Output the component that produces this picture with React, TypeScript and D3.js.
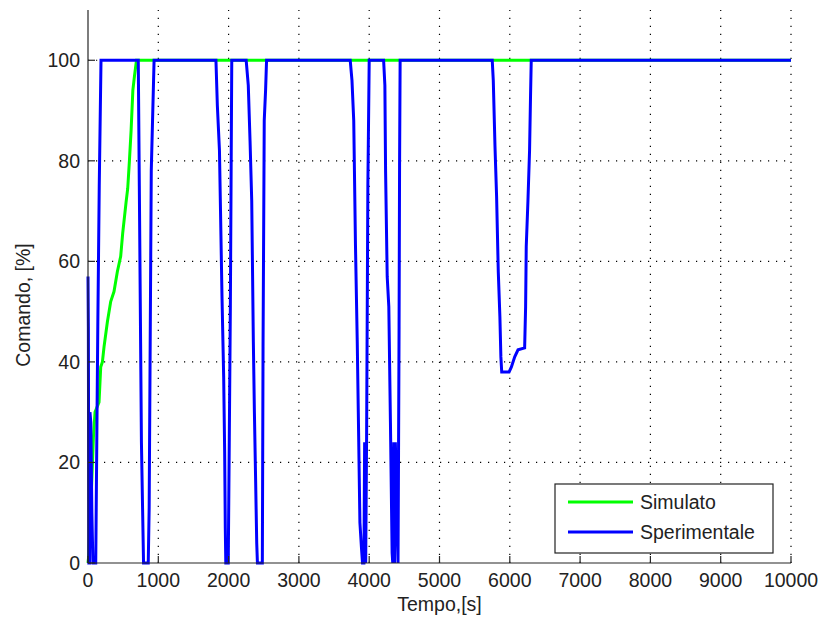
import React from "react";
import * as d3 from "d3";

const xTicks = [0, 1000, 2000, 3000, 4000, 5000, 6000, 7000, 8000, 9000, 10000];
const yTicks = [0, 20, 40, 60, 80, 100];

const simT = [0, 15, 28, 53, 77, 100, 157, 181, 205, 228, 276, 323, 370, 418, 465, 493, 541, 565, 589, 613, 638, 662, 690, 10000];
const simV = [0, 2, 9, 16, 25, 30, 32, 39, 40, 43, 48, 52, 54, 58, 61, 65.5, 71.7, 74.5, 80, 86, 94, 97, 100, 100];

const spT = [
  0, 5, 12, 22, 28, 40, 55, 70, 110, 125, 140, 160, 185,
  715, 730, 760, 790, 857, 870, 900, 940,
  1820, 1840, 1870, 1885, 1906, 1930, 1944, 1953, 1960, 1995, 2010, 2025, 2045,
  2250, 2280, 2305, 2329, 2352, 2367, 2385, 2400, 2410, 2480, 2490, 2507, 2526, 2540,
  3730, 3755, 3780, 3805, 3830, 3845, 3868, 3890, 3905, 3925, 3935, 3950, 3963, 3981, 4000,
  4205, 4223, 4233, 4256, 4279, 4302, 4326, 4335, 4350, 4360, 4372, 4410, 4418, 4425, 4432, 4440,
  5750, 5765, 5789, 5812, 5836, 5859, 5873, 5885, 5990, 6023, 6070, 6117, 6211, 6225, 6234, 6258, 6281, 6295, 6305,
  10000,
];
const spV = [
  57, 47, 0, 0, 30, 28, 10, 0, 0, 24, 48, 75, 100,
  100, 75, 24, 0, 0, 11, 78, 100,
  100, 91, 82, 70, 53, 37, 22, 7, 0, 0, 25, 51, 100,
  100, 95, 84, 72, 44, 30, 16, 4, 0, 0, 43, 88, 94, 100,
  100, 96, 88, 63, 44, 30, 8, 3, 0, 0, 24, 0, 25, 75, 100,
  100, 95, 78, 57, 51, 28, 2, 0, 24, 0, 24, 0, 24, 47, 79, 100,
  100, 96, 83, 73, 58, 49, 41, 38, 38, 39, 41, 42.4, 42.8, 51, 63, 72, 82, 93, 100,
  100,
];

const seriesNames = ["Simulato", "Sperimentale"];
const seriesColors = ["#00ff00", "#0000ff"];

export default function App() {
  const W = 821, H = 628;
  const x = d3.scaleLinear().domain([0, 10000]).range([88, 791]);
  const y = d3.scaleLinear().domain([0, 110]).range([563, 10]);
  const line = d3.line<[number, number]>().x(d => x(d[0])).y(d => y(d[1]));
  const simData = simT.map((t, i) => [t, simV[i]] as [number, number]);
  const spData = spT.map((t, i) => [t, spV[i]] as [number, number]);
  const font = "'Liberation Sans', Arial, Helvetica, sans-serif";
  const fs = 19.5;
  const [x0, x1] = x.range();
  const [y0, y1] = y.range();

  return (
    <svg width={W} height={H} style={{ position: "absolute", left: 0, top: 0, background: "#fff" }} fontFamily={font}>
      <rect x={0} y={0} width={W} height={H} fill="#fff" />
      {/* grid */}
      <g stroke="#000" strokeWidth={1.2} strokeDasharray="1.2,6.8" fill="none">
        {xTicks.filter(t => t > 0).map(t => (
          <line key={"gx" + t} x1={x(t)} x2={x(t)} y1={y0} y2={y1} />
        ))}
        {yTicks.filter(t => t > 0).map(t => (
          <line key={"gy" + t} x1={x0} x2={x1} y1={y(t)} y2={y(t)} />
        ))}
      </g>
      {/* series */}
      <path d={line(simData) || ""} fill="none" stroke={seriesColors[0]} strokeWidth={3} strokeLinejoin="miter" />
      <path d={line(spData) || ""} fill="none" stroke={seriesColors[1]} strokeWidth={3} strokeLinejoin="miter" />
      {/* axes */}
      <g stroke="#262626" strokeWidth={1.2}>
        <line x1={x0} x2={x0} y1={y0} y2={y1} />
        <line x1={x0} x2={x1} y1={y0} y2={y0} />
        {xTicks.map(t => (
          <line key={"tx" + t} x1={x(t)} x2={x(t)} y1={y0} y2={y0 - 7} />
        ))}
        {yTicks.map(t => (
          <line key={"ty" + t} x1={x0} x2={x0 + 7} y1={y(t)} y2={y(t)} />
        ))}
      </g>
      <g fontSize={fs} fill="#222">
        {xTicks.map(t => (
          <text key={"lx" + t} x={x(t)} y={y0 + 24} textAnchor="middle">{t}</text>
        ))}
        {yTicks.map(t => (
          <text key={"ly" + t} x={x0 - 8} y={y(t) + 7} textAnchor="end">{t}</text>
        ))}
        <text x={(x0 + x1) / 2} y={611} textAnchor="middle">Tempo,[s]</text>
        <text transform={`translate(30,${305}) rotate(-90)`} textAnchor="middle">Comando, [%]</text>
      </g>
      {/* legend */}
      <g>
        <rect x={555} y={484} width={218} height={69} fill="#fff" stroke="#222" strokeWidth={1.2} />
        {seriesNames.map((n, i) => (
          <g key={n}>
            <line x1={568} x2={633} y1={502 + i * 30} y2={502 + i * 30} stroke={seriesColors[i]} strokeWidth={3} />
            <text x={640} y={509 + i * 30} fontSize={fs} fill="#222">{n}</text>
          </g>
        ))}
      </g>
    </svg>
  );
}
